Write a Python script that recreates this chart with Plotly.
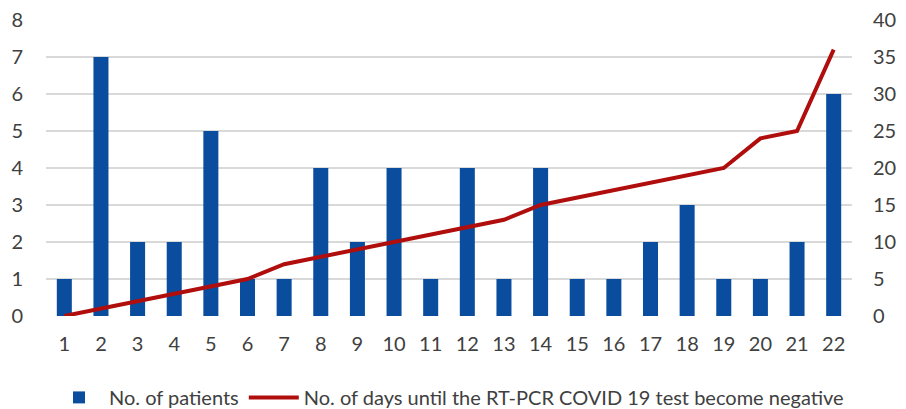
import plotly.graph_objects as go

categories = [str(i) for i in range(1, 23)]
patients = [1, 7, 2, 2, 5, 1, 1, 4, 2, 4, 1, 4, 1, 4, 1, 1, 2, 3, 1, 1, 2, 6]
days_negative = [0, 1, 2, 3, 4, 5, 7, 8, 9, 10, 11, 12, 13, 15, 16, 17, 18, 19, 20, 24, 25, 36]

FONT = "Lato"
fig = go.Figure()
fig.add_trace(go.Bar(x=categories, y=patients, name="No. of patients",
                     marker=dict(color="#0A4D9E", line=dict(width=0)), yaxis="y"))
fig.add_trace(go.Scatter(x=categories, y=days_negative, mode="lines",
                         name="No. of days until the RT-PCR COVID 19 test become negative",
                         line=dict(color="#B00D0D", width=4), yaxis="y2"))

fig.update_layout(
    width=906, height=409,
    margin=dict(l=46, r=54, t=20, b=93, autoexpand=False),
    paper_bgcolor="white", plot_bgcolor="white",
    bargap=0.59,
    font=dict(family=FONT, size=20, color="#404040"),
    showlegend=True,
    legend=dict(orientation="h", x=0.5, xanchor="center", y=-0.275, yanchor="middle",
                font=dict(size=20, color="#404040"), traceorder="normal", itemwidth=50),
    xaxis=dict(type="category", range=[-0.5, 21.5], showgrid=False, zeroline=False,
               showline=False, ticks="outside", ticklen=10, tickcolor="rgba(0,0,0,0)"),
    yaxis=dict(range=[0, 8], dtick=1, showgrid=True, gridcolor="#D9D9D9", gridwidth=1.5,
               zeroline=False, showline=False, ticks="outside", ticklen=18,
               tickcolor="rgba(0,0,0,0)"),
    yaxis2=dict(range=[0, 40], dtick=5, overlaying="y", side="right", showgrid=False,
                zeroline=False, showline=False, ticks="outside", ticklen=16,
                tickcolor="rgba(0,0,0,0)"),
)
fig.write_html("out.html")
